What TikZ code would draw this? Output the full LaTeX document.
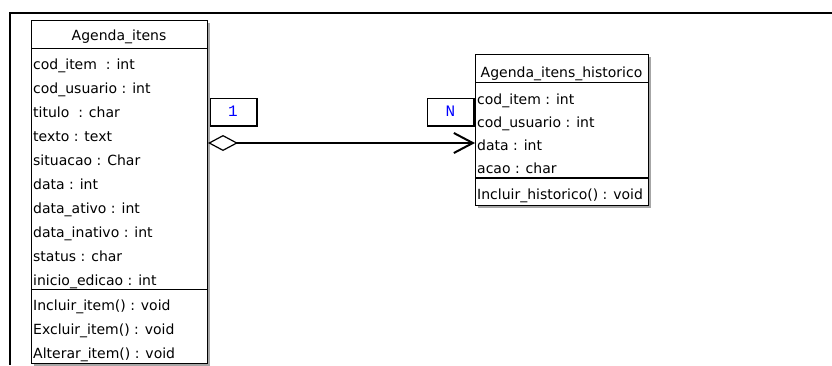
\documentclass[tikz,border=0pt]{standalone}
\usepackage{fontspec}
\setmainfont{DejaVu Sans}
\newfontfamily\multfont{Liberation Mono}
\usetikzlibrary{arrows.meta,shadows}

\begin{document}
\begin{tikzpicture}[x=1pt, y=-1pt,
    font=\fontsize{14}{16}\selectfont,
    classbox/.style={draw, line width=1pt, fill=white, anchor=north west, inner sep=0pt,
        drop shadow={shadow xshift=2.5pt, shadow yshift=-2.5pt, fill=gray!70, opacity=1}},
    attr/.style={anchor=base west, inner sep=0pt},
    title/.style={anchor=base, inner sep=0pt},
    mult/.style={draw, line width=1pt, fill=white, minimum width=46pt, minimum height=27pt,
        inner sep=0pt, text=blue, font=\multfont\fontsize{16}{16}\selectfont}]
    \useasboundingbox (0,0) rectangle (832,365);

    % frame
    \draw [line width=2.5pt] (832,13) -- (10,13) -- (10,365);

    % Agenda_itens
    \node [classbox, minimum width=176pt, minimum height=343pt] (itens) at (31,19.5) {};
    \node [title] (itens title) at (119,40) {Agenda\_itens};
    \draw [line width=1pt] (itens.west |- 0,48) -- (itens.east |- 0,48);
    \foreach \t [count=\i] in {cod\_item~~: int, cod\_usuario : int, titulo~~: char,
        texto : text, situacao : Char, data : int, data\_ativo : int,
        data\_inativo : int, status : char, inicio\_edicao : int}
        \node [attr] (itens a\i) at (33, 45+24*\i) {\t};
    \draw [line width=1pt] (itens.west |- 0,289) -- (itens.east |- 0,289);
    \foreach \t [count=\i] in {Incluir\_item() : void, Excluir\_item() : void,
        Alterar\_item() : void}
        \node [attr] (itens m\i) at (33, 286+24*\i) {\t};

    % Agenda_itens_historico
    \node [classbox, minimum width=173pt, minimum height=151pt] (hist) at (475,54) {};
    \node [title] (hist title) at (561.5,77) {Agenda\_itens\_historico};
    \draw [line width=1pt] (hist.west |- 0,82) -- (hist.east |- 0,82);
    \foreach \t [count=\i] in {cod\_item : int, cod\_usuario : int, data : int, acao : char}
        \node [attr] (hist a\i) at (477, 80.7+23.3*\i) {\t};
    \draw [line width=1.5pt] (hist.west |- 0,178) -- (hist.east |- 0,178);
    \node [attr] (hist m1) at (477,199.5) {Incluir\_historico() : void};

    % association
    \coordinate (from) at (itens.east |- 0,143);
    \coordinate (to) at (hist.west |- 0,143);
    \draw [line width=2.2pt,
        {Diamond[open, length=30pt, width=16pt, line width'=1.2pt]}-{Straight Barb[length=19pt, width=20pt, line width'=2pt]}]
        (from) -- (to);

    % multiplicities
    \node [mult] (one) at (233,111.5) {1};
    \node [mult] (many) at (450.5,111.5) {N};
    \foreach \m in {one, many}
        \draw [line width=2pt] (\m.south west) -- (\m.south east) -- (\m.north east);

\end{tikzpicture}
\end{document}
